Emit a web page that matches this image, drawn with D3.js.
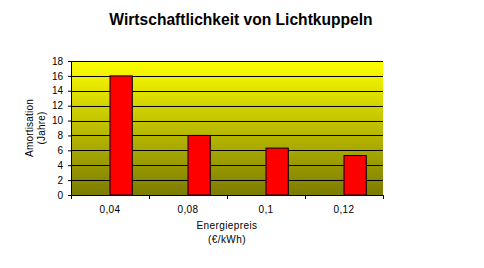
<!doctype html>
<html>
<head>
<meta charset="utf-8"/>
<script src="https://d3js.org/d3.v7.min.js"></script>
<style>
body{margin:0;background:#fff;}
text{font-family:"Liberation Sans",Arial,sans-serif;}
</style>
</head>
<body>
<script>
// data
var preise=["0,04","0,08","0,1","0,12"];
var serien=["leer","Amortisation"];   // first series is empty, bars sit in the right slot
var amortisation=[16,8,6.3,5.3];
var yTicks=[0,2,4,6,8,10,12,14,16,18];

var width=484,height=268;
var m={left:71,right:101,top:61,bottom:73};
var pw=width-m.left-m.right, ph=height-m.top-m.bottom;

var svg=d3.select("body").append("svg").attr("width",width).attr("height",height);

var x=d3.scaleBand().domain(preise).range([0,pw]);
var xs=d3.scaleBand().domain(serien).range([0,x.bandwidth()]).paddingOuter(0.75);
var y=d3.scaleLinear().domain([0,18]).range([ph,0]);

var grad=svg.append("defs").append("linearGradient").attr("id","bg")
  .attr("x1",0).attr("y1",0).attr("x2",0).attr("y2",1);
grad.append("stop").attr("offset","0%").attr("stop-color","#ffff00");
grad.append("stop").attr("offset","100%").attr("stop-color","#7b7b00");

var g=svg.append("g").attr("transform","translate("+m.left+","+m.top+")");

g.append("rect").attr("width",pw).attr("height",ph).attr("fill","url(#bg)");

g.selectAll(".grid").data(yTicks.filter(function(d){return d>0;})).enter().append("line")
  .attr("x1",0).attr("x2",pw)
  .attr("y1",function(d){return Math.round(y(d))+0.5;})
  .attr("y2",function(d){return Math.round(y(d))+0.5;})
  .attr("stroke","#000").attr("stroke-width",1);

g.selectAll(".bar").data(amortisation).enter().append("rect")
  .attr("x",function(d,i){return x(preise[i])+xs("Amortisation");})
  .attr("y",function(d){return y(d);})
  .attr("width",xs.bandwidth())
  .attr("height",function(d){return ph-y(d);})
  .attr("fill","#ff0000").attr("stroke","#000").attr("stroke-width",1);

// y axis
var ya=g.append("g").call(d3.axisLeft(y).tickValues(yTicks).tickSize(3).tickPadding(5).tickSizeOuter(0));
ya.select(".domain").attr("stroke","#000");
ya.selectAll("text").attr("font-size",10).attr("fill","#000")
  .attr("font-family","Liberation Sans, Arial, sans-serif");

// x axis, ticks on band borders
var xa=g.append("g").attr("transform","translate(0,"+ph+")");
xa.append("line").attr("x1",0).attr("x2",pw).attr("y1",0.5).attr("y2",0.5).attr("stroke","#000");
xa.selectAll(".tk").data(preise.concat(["end"])).enter().append("line")
  .attr("x1",function(d,i){return Math.round(i*x.step())+0.5;})
  .attr("x2",function(d,i){return Math.round(i*x.step())+0.5;})
  .attr("y1",0).attr("y2",4).attr("stroke","#000");
xa.selectAll("text").data(preise).enter().append("text")
  .attr("x",function(d){return x(d)+x.bandwidth()/2;})
  .attr("y",18).attr("text-anchor","middle").attr("font-size",10)
  .attr("letter-spacing",0.4).text(function(d){return d;});

// titles
svg.append("text").attr("x",241).attr("y",25).attr("text-anchor","middle")
  .attr("font-size",15.6).attr("font-weight","bold").text("Wirtschaftlichkeit von Lichtkuppeln");

svg.append("text").attr("x",227).attr("y",229).attr("text-anchor","middle")
  .attr("font-size",10).attr("letter-spacing",0.4).text("Energiepreis");
svg.append("text").attr("x",227).attr("y",243).attr("text-anchor","middle")
  .attr("font-size",10).attr("letter-spacing",0.4).text("(€/kWh)");

var yt=svg.append("text").attr("transform","translate(33,128) rotate(-90)")
  .attr("text-anchor","middle").attr("font-size",10).attr("letter-spacing",0.2);
yt.append("tspan").attr("x",0).attr("dy",0).text("Amortisation");
yt.append("tspan").attr("x",0).attr("dy",12).text("(Jahre)");
</script>
</body>
</html>
